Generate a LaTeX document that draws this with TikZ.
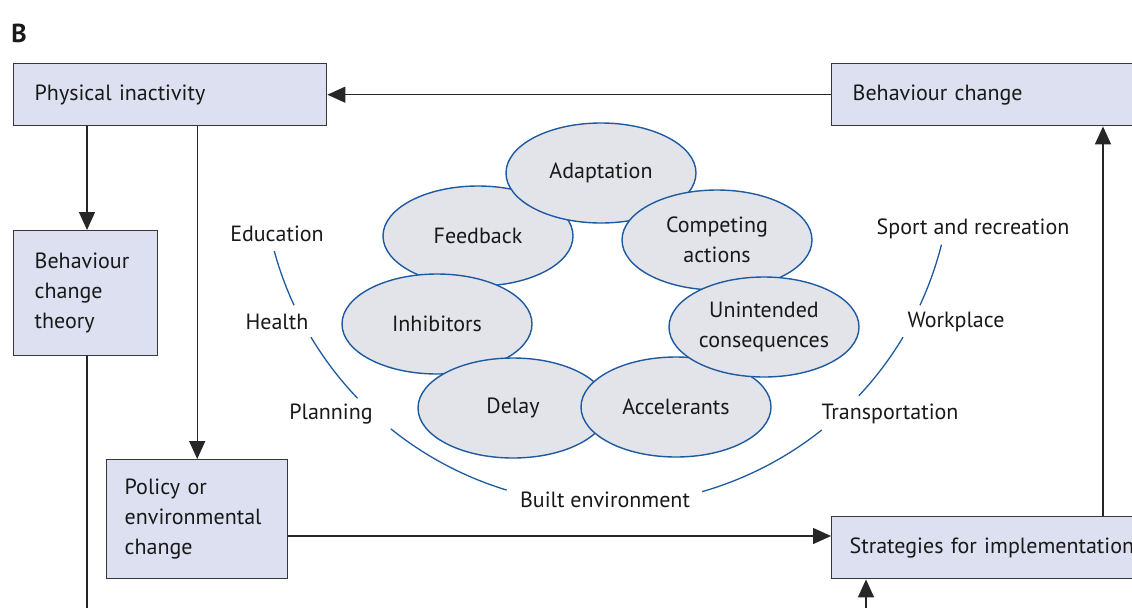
\documentclass[tikz,border=0pt]{standalone}
\usepackage{fontspec}
\setmainfont{PT Sans}
\usetikzlibrary{arrows.meta, shapes.geometric}

\definecolor{boxfill}{RGB}{221,224,240}
\definecolor{ellfill}{RGB}{227,228,233}
\definecolor{ringblue}{RGB}{30,90,160}
\definecolor{framegray}{RGB}{55,55,55}

\begin{document}
\begin{tikzpicture}[x=1pt, y=-1pt,
    every node/.style={font=\fontsize{22}{30}\selectfont, text=black!90},
    stage/.style={rectangle, draw=framegray, line width=1.4pt, fill=boxfill, anchor=north west, align=left, inner xsep=21pt, inner ysep=0pt},
    factor/.style={ellipse, draw=ringblue, line width=1.4pt, fill=ellfill, minimum width=190pt, minimum height=100pt, inner sep=0pt, align=center},
    arr/.style={-{Triangle[length=18pt, width=16pt]}, line width=1.4pt, draw=black!85},
    ring/.style={ringblue, line width=1.3pt}]

    \useasboundingbox (0,0) rectangle (1132,608);
    \clip (0,0) rectangle (1132,608);

    % Panel letter
    \node[font=\fontsize{26}{30}\selectfont\bfseries] (panel) at (19,33) {B};

    % Boxes
    \node[stage, text width=271pt, minimum height=62pt] (inact) at (13,63) {Physical inactivity};
    \node[stage, text width=288pt, minimum height=62pt] (bchange) at (831,63) {Behaviour change};
    \node[stage, text width=102pt, minimum height=125pt] (theory) at (13,230) {Behaviour\\change\\theory};
    \node[stage, inner xsep=18pt, text width=145pt, minimum height=119pt] (policy) at (106,459) {Policy or\\environmental\\change};
    \node[stage, inner xsep=18pt, text width=294pt, minimum height=62pt] (strat) at (831,516) {Strategies for implementation};

    % Ring of factors
    \node[factor] (feedb) at (478,236) {Feedback};
    \node[factor] (inhib) at (437,324) {Inhibitors};
    \node[factor] (delay) at (513,408) {Delay};
    \node[factor] (accel) at (676,407) {Accelerants};
    \node[factor] (adapt) at (601,173) {Adaptation};
    \node[factor] (compet) at (717,240) {Competing\\actions};
    \node[factor] (unint) at (764,327) {Unintended\\consequences};

    % Settings around the ring
    \node (educ) at (277,234) {Education};
    \node (health) at (277,322) {Health};
    \node (plan) at (331,414) {Planning};
    \node (built) at (605,500) {Built environment};
    \node (transp) at (890,414) {Transportation};
    \node (work) at (956,322) {Workplace};
    \node (sport) at (973,229) {Sport and recreation};

    % Outer arc
    \coordinate (hub) at (607,160);
    \foreach \a/\b in {164.7/155.1, 149.1/136.3, 128.8/106.9, 74.0/51.5, 43.1/30.9, 24.9/14.2}
        \draw[ring] (hub) ++(\a:345) arc[start angle=\a, end angle=\b, radius=345];

    % Connectors
    \coordinate (lnk) at (0,536);
    \coordinate (upx) at (1103,0);
    \coordinate (thbot) at (87,608);
    \coordinate (stbot) at (866,608);

    \draw[arr] (bchange.west) -- (inact.east);
    \draw[arr] (inact.south -| thbot) -- (theory.north -| thbot);
    \draw[arr] (inact.south -| policy.north) -- (policy.north);
    \draw[line width=1.4pt, black!85] (theory.south -| thbot) -- (thbot);
    \draw[arr] (policy.east |- lnk) -- (strat.west |- lnk);
    \draw[arr] (strat.north -| upx) -- (bchange.south -| upx);
    \draw[arr] (stbot) -- (strat.south -| stbot);

\end{tikzpicture}
\end{document}
